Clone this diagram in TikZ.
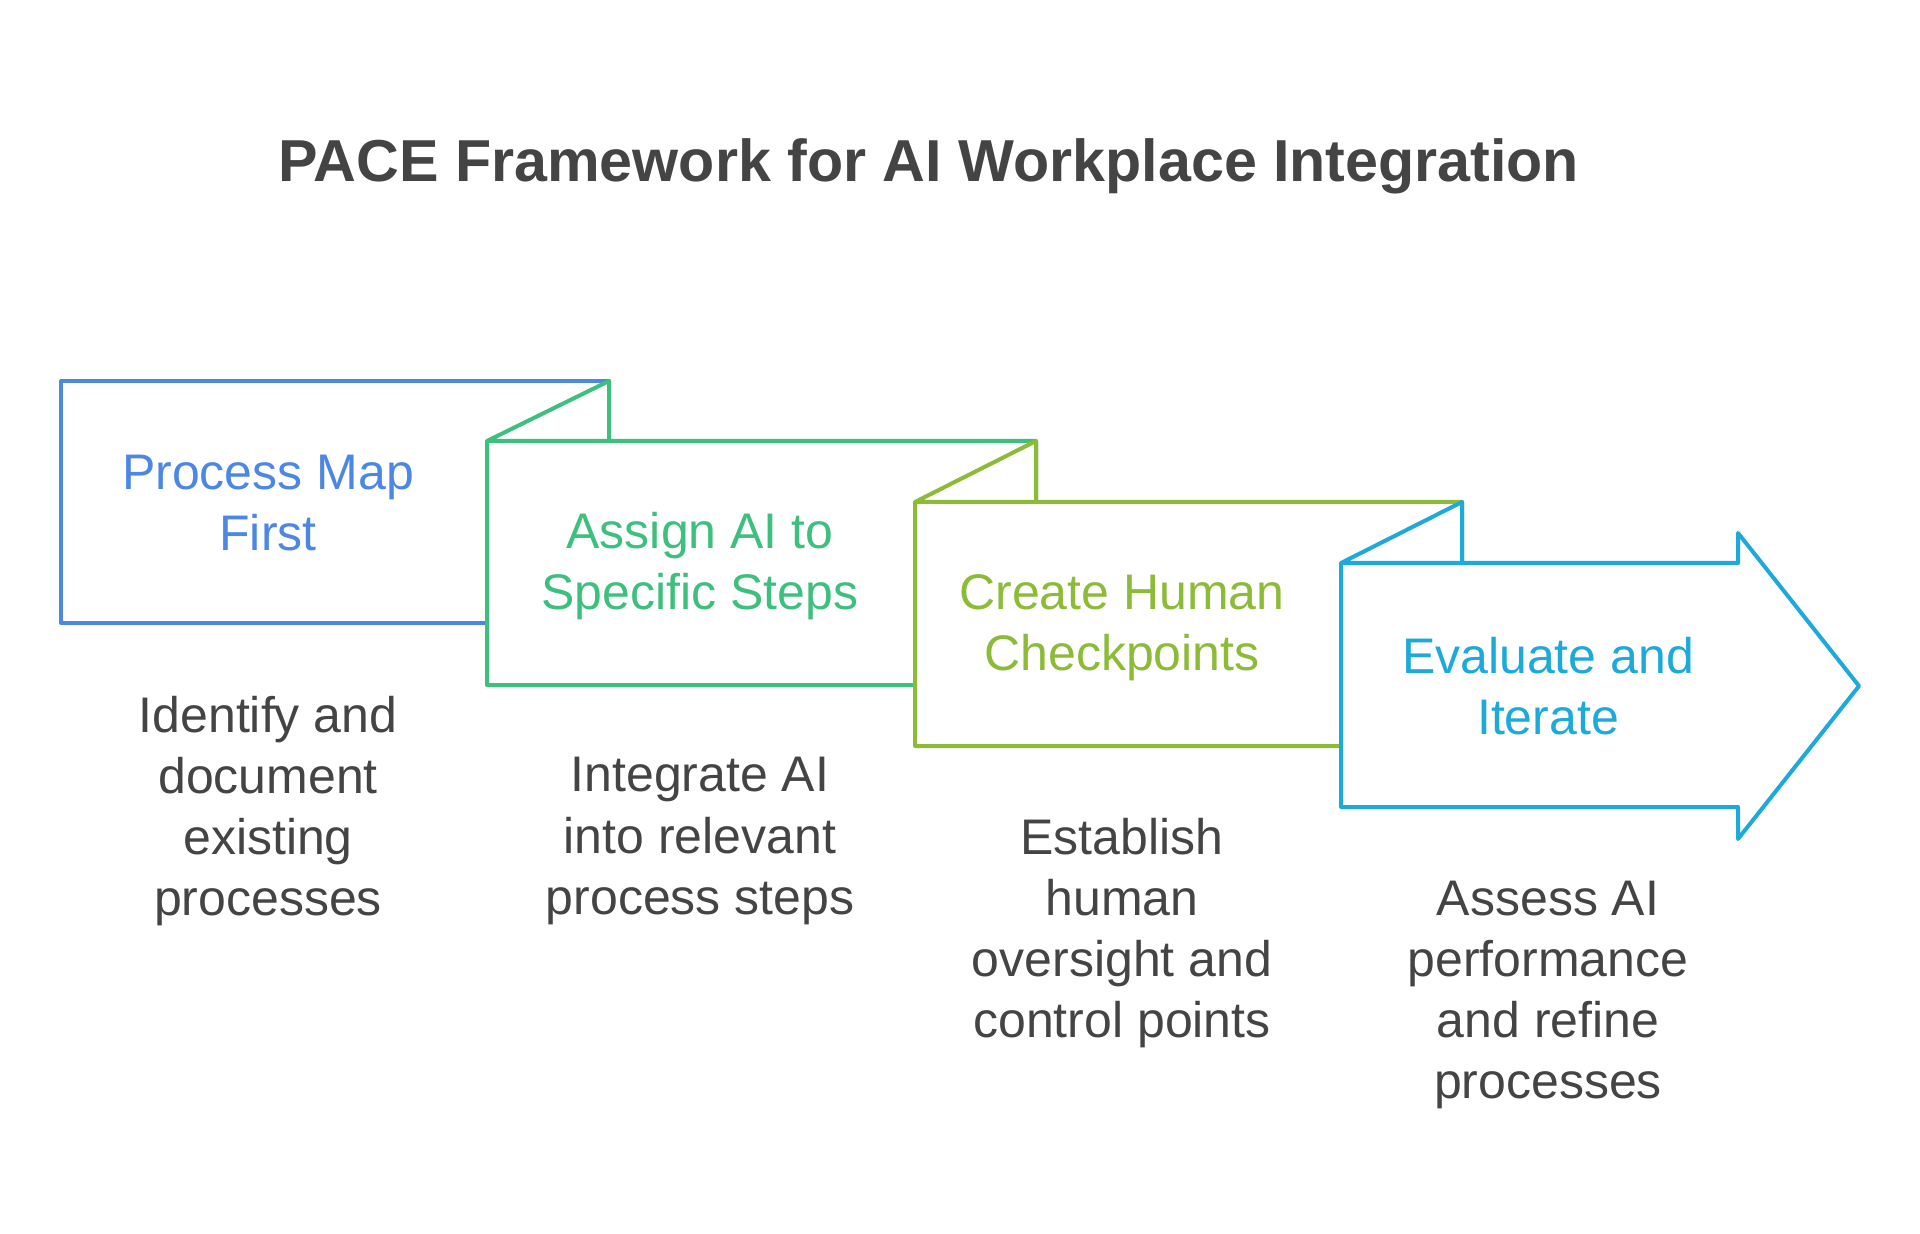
\documentclass[tikz,border=0pt]{standalone}
\usepackage{fontspec}
\setmainfont{Liberation Sans}
\definecolor{textgray}{HTML}{444444}
\definecolor{paceblue}{HTML}{4C87E4}
\definecolor{pacegreen}{HTML}{3DBF7E}
\definecolor{paceolive}{HTML}{8CBB38}
\definecolor{pacecyan}{HTML}{1DA9D9}

\begin{document}
\begin{tikzpicture}[x=0.5pt,y=-0.5pt]
\tikzset{
  panel/.style={line width=2pt,line join=round,fill=white},
  steptext/.style={align=center,font=\fontsize{25}{30.6}\selectfont},
  desctext/.style={align=center,text=textgray,font=\fontsize{25}{30.6}\selectfont},
  titletext/.style={text=textgray,font=\bfseries\fontsize{29.6}{36}\selectfont}
}
\useasboundingbox[fill=white] (0,0) rectangle (1920,1234);
% title
\node[titletext] (title) at (929,166) {PACE Framework for AI Workplace Integration};
% panels, drawn back to front
\draw[panel,draw=paceblue] (61,381) rectangle (609,623);
\draw[panel,draw=pacegreen] (487,441) -- (609,381) -- (609,441) -- (1036,441) -- (1036,685) -- (487,685) -- cycle
  (487,441) -- (609,441);
\draw[panel,draw=paceolive] (915,502) -- (1036,441) -- (1036,502) -- (1462,502) -- (1462,746) -- (915,746) -- cycle
  (915,502) -- (1036,502);
\draw[panel,draw=pacecyan] (1341,563) -- (1462,502) -- (1462,563) -- (1738,563) -- (1738,533) -- (1859,686)
  -- (1738,839) -- (1738,807) -- (1341,807) -- cycle
  (1341,563) -- (1462,563);
% step labels
\node[steptext,text=paceblue] (s_map) at (268,503) {Process Map\\First};
\node[steptext,text=pacegreen] (s_assign) at (700,566) {Assign AI to\\Specific Steps};
\node[steptext,text=paceolive] (s_check) at (1122,628) {Create Human\\Checkpoints};
\node[steptext,text=pacecyan] (s_eval) at (1548,686) {Evaluate and\\Iterate};
% descriptions
\node[desctext] (d_map) at (268,811) {Identify and\\document\\existing\\processes};
\node[desctext] (d_assign) at (700,841) {Integrate AI\\into relevant\\process steps};
\node[desctext] (d_check) at (1122,933) {Establish\\human\\oversight and\\control points};
\node[desctext] (d_eval) at (1548,995) {Assess AI\\performance\\and refine\\processes};
\end{tikzpicture}
\end{document}
